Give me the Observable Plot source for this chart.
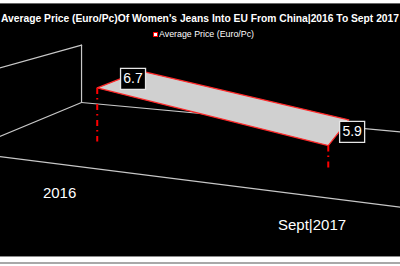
<!DOCTYPE html>
<html><head><meta charset="utf-8">
<script src="https://cdn.jsdelivr.net/npm/d3@7"></script>
<script src="https://cdn.jsdelivr.net/npm/@observablehq/plot@0.6"></script>
<style>
html,body{margin:0;padding:0;background:#fff;width:400px;height:266px;overflow:hidden;font-family:"Liberation Sans",Arial,sans-serif;}
#frame{position:absolute;left:0;top:3px;width:400px;height:252px;background:#000;border-top:1px solid #666;border-bottom:1px solid #8a8a8a;overflow:hidden;}
#rule{position:absolute;left:0;top:262px;width:400px;height:2px;background:#a8a8a8;}
#title{position:absolute;left:0;top:0;width:400px;height:24px;}
#title span{position:absolute;left:200px;top:7.5px;font-weight:bold;font-size:11px;line-height:12px;color:#fff;white-space:nowrap;transform-origin:0 0;}
#legend{position:absolute;left:0;top:24px;width:400px;height:13px;}
#legend .sw{position:absolute;left:152.5px;top:4px;width:3px;height:3px;background:#fff;border:1px solid #ff0000;}
#legend .lb{position:absolute;left:159px;top:1px;font-size:9.5px;line-height:9px;color:#fff;white-space:nowrap;transform-origin:0 0;}
#chart{position:absolute;left:0;top:37px;width:400px;height:215px;}
</style></head>
<body>
<div id="frame">
  <div id="title"><span id="ttext"></span></div>
  <div id="legend"><div class="sw"></div><div class="lb" id="ltext"></div></div>
  <div id="chart"></div>
</div>
<div id="rule"></div>
<script>
// ---- data ----
const titleText = "Average Price (Euro/Pc)Of Women's Jeans Into EU From China|2016 To Sept 2017";
const seriesName = "Average Price (Euro/Pc)";
const categories = ["2016", "Sept|2017"];
const values = [6.7, 5.9];
const valueAxis = [5.44, 7.09]; // estimated (hidden) value-axis extent

// ---- 3D view (layout constants) ----
const W = 400, H = 215, svgTop = 41;          // svg placement on page
const cam = {f: 775, cx: 200, horizon: -72, height: 2.245};
const back = {x: -1.535, d: 10};              // back-left floor corner in camera space
const catDir = [0.932, -0.361], depthDir = [0.361, 0.932];
const catStart = 1.08, catStep = 2.455;
const floorDepth = 2.37, ribbonBack = 0.5, ribbonFront = 1.55, wallH = 0.74;
const uWall = -catStart / catStep, uEnd = categories.length - 0.5;

function project(u, v, q) {
  const t = catStart + u * catStep;
  const x = back.x - q * depthDir[0] + t * catDir[0];
  const d = back.d - q * depthDir[1] + t * catDir[1];
  const z = (v - valueAxis[0]) / (valueAxis[1] - valueAxis[0]) * wallH - cam.height;
  return {px: x / d, py: z / d};
}

document.getElementById("ttext").textContent = titleText;
document.getElementById("ltext").textContent = seriesName;

const [vmin, vmax] = valueAxis;
const segs = [
  ["wallTop", [uWall, vmax, 0], [uWall, vmax, floorDepth]],
  ["wallEdge", [uWall, vmin, 0], [uWall, vmax, 0]],
  ["wallBottom", [uWall, vmin, 0], [uWall, vmin, floorDepth]],
  ["floorBack", [uWall, vmin, 0], [uEnd, vmin, 0]],
  ["floorFront", [uWall, vmin, floorDepth], [uEnd, vmin, floorDepth]]
];
const frameLines = segs.flatMap(([id, a, b]) => [
  {seg: id, ...project(...a)}, {seg: id, ...project(...b)}
]);

const pts = categories.map((c, i) => ({cat: c, i, v: values[i]}));
const ribbon = [
  ...pts.map(p => project(p.i, p.v, ribbonFront)),
  ...pts.slice().reverse().map(p => project(p.i, p.v, ribbonBack))
];
ribbon.push(ribbon[0]);

const drops = pts.map(p => {
  const a = project(p.i, p.v, ribbonFront), b = project(p.i, vmin, ribbonFront);
  return {x1: a.px, y1: a.py, x2: b.px, y2: b.py};
});
const labels = pts.map(p => ({text: String(p.v), ...project(p.i, p.v, (ribbonBack + ribbonFront) / 2)}));
const catLabels = pts.map(p => ({text: p.cat, ...project(p.i, vmin, floorDepth)}));

const boxSymbol = {draw(ctx) { ctx.rect(-12.5, -10.5, 25, 21); }};

const chart = Plot.plot({
  width: W, height: H,
  margin: 0,
  style: {background: "#000", color: "#fff", overflow: "hidden", fontFamily: "Liberation Sans, Arial, sans-serif"},
  x: {type: "linear", domain: [(0 - cam.cx) / cam.f, (W - cam.cx) / cam.f], axis: null},
  y: {type: "linear", domain: [(cam.horizon - (svgTop + H)) / cam.f, (cam.horizon - svgTop) / cam.f], axis: null},
  marks: [
    Plot.line(frameLines, {x: "px", y: "py", z: "seg", stroke: "#c8c8c8", strokeWidth: 1.2, clip: true}),
    Plot.line(ribbon, {x: "px", y: "py", fill: "#d0d0d0", stroke: "#ff2a2a", strokeWidth: 1.3, clip: true}),
    Plot.link(drops, {x1: "x1", y1: "y1", x2: "x2", y2: "y2", stroke: "#ff0000", strokeWidth: 2, strokeDasharray: "6,4,1.5,4.5"}),
    Plot.dot(labels, {x: "px", y: "py", dx: 13, symbol: boxSymbol, fill: "#000", stroke: "#e6e6e6", strokeWidth: 1.3}),
    Plot.text(labels, {x: "px", y: "py", dx: 13, text: "text", fill: "#fff", fontSize: 14}),
    Plot.text(catLabels, {x: "px", y: "py", dx: 4, dy: 30, text: "text", fill: "#fff", fontSize: 15})
  ]
});
document.getElementById("chart").appendChild(chart);

// fit title and legend text widths like the reference
function fit(id, target, center) {
  const sp = document.getElementById(id);
  const w = sp.getBoundingClientRect().width;
  const s = target / w;
  sp.style.transform = `${center ? `translateX(${-w * s / 2}px) ` : ""}scaleX(${s})`;
}
fit("ttext", 398, true);
fit("ltext", 95, false);
</script>
</body></html>
